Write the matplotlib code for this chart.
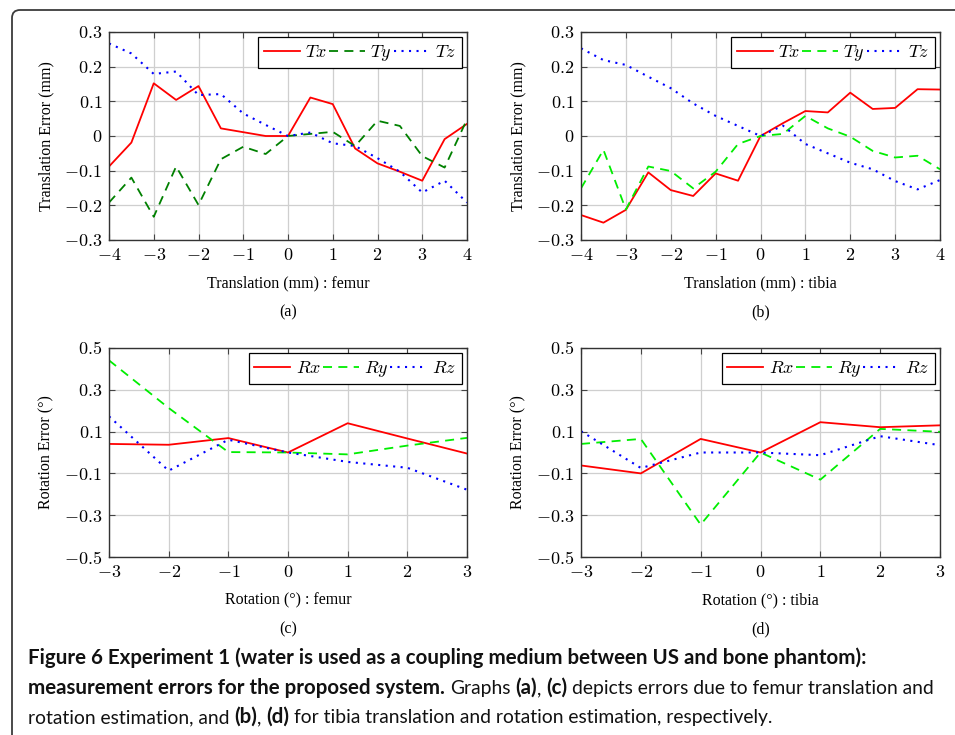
import numpy as np
import matplotlib
matplotlib.use("Agg")
import matplotlib.pyplot as plt
from matplotlib.patches import FancyBboxPatch
from matplotlib.transforms import IdentityTransform
from matplotlib.ticker import FuncFormatter

plt.rcParams['mathtext.fontset'] = 'cm'
plt.rcParams['font.family'] = 'Liberation Serif'

# ---- data ----
t_pos = [-4, -3.5, -3, -2.5, -2, -1.5, -1, -0.5, 0, 0.5, 1, 1.5, 2, 2.5, 3, 3.5, 4]
femur_tx = [-0.088, -0.019, 0.152, 0.104, 0.144, 0.022, 0.011, 0.0, 0.0, 0.111, 0.092,
            -0.036, -0.079, -0.103, -0.129, -0.009, 0.035]
femur_ty = [-0.192, -0.120, -0.233, -0.088, -0.199, -0.067, -0.031, -0.052, 0.0, 0.006, 0.012,
            -0.029, 0.044, 0.029, -0.058, -0.091, 0.048]
femur_tz = [0.267, 0.238, 0.179, 0.186, 0.118, 0.121, 0.065, 0.032, 0.0, 0.010, -0.021,
            -0.029, -0.064, -0.103, -0.163, -0.129, -0.192]

tibia_tx = [-0.228, -0.250, -0.213, -0.105, -0.156, -0.173, -0.108, -0.129, 0.0, 0.037, 0.072,
            0.068, 0.125, 0.078, 0.081, 0.135, 0.134]
tibia_ty = [-0.151, -0.040, -0.212, -0.088, -0.101, -0.151, -0.103, -0.023, 0.0, 0.006, 0.058,
            0.022, -0.002, -0.043, -0.062, -0.057, -0.096]
tibia_tz = [0.253, 0.219, 0.205, 0.171, 0.138, 0.094, 0.058, 0.029, 0.0, 0.030, -0.023,
            -0.050, -0.077, -0.096, -0.130, -0.154, -0.127]

r_pos = [-3, -2, -1, 0, 1, 2, 3]
femur_rx = [0.041, 0.037, 0.069, 0.0, 0.140, 0.067, -0.005]
femur_ry = [0.441, 0.213, 0.002, 0.0, -0.009, 0.033, 0.070]
femur_rz = [0.173, -0.087, 0.061, 0.0, -0.045, -0.073, -0.178]

tibia_rx = [-0.062, -0.100, 0.065, 0.0, 0.145, 0.121, 0.130]
tibia_ry = [0.041, 0.065, -0.345, 0.0, -0.130, 0.113, 0.099]
tibia_rz = [0.102, -0.074, 0.0, 0.0, -0.013, 0.078, 0.035]

t_xticks = [-4, -3, -2, -1, 0, 1, 2, 3, 4]
r_xticks = [-3, -2, -1, 0, 1, 2, 3]
t_ticks = [-0.3, -0.2, -0.1, 0, 0.1, 0.2, 0.3]
r_ticks = [-0.5, -0.3, -0.1, 0.1, 0.3, 0.5]

W, H = 955, 735
fig = plt.figure(figsize=(W / 100, H / 100), dpi=100)
fig.patch.set_facecolor('white')

def box(l, t, r, b):
    return [l / W, 1 - b / H, (r - l) / W, (b - t) / H]

panels = [
    dict(rect=box(109, 32, 467, 240), x=t_pos, ys=(femur_tx, femur_ty, femur_tz),
         names=('Tx', 'Ty', 'Tz'), green='#008000', xlim=(-4, 4), xticks=t_xticks,
         yticks=t_ticks, ylim=(-0.3, 0.3),
         xlabel='Translation (mm) : femur', ylabel='Translation Error (mm)', tag='(a)'),
    dict(rect=box(581, 32, 940, 240), x=t_pos, ys=(tibia_tx, tibia_ty, tibia_tz),
         names=('Tx', 'Ty', 'Tz'), green='#00ee00', xlim=(-4, 4), xticks=t_xticks,
         yticks=t_ticks, ylim=(-0.3, 0.3),
         xlabel='Translation (mm) : tibia', ylabel='Translation Error (mm)', tag='(b)'),
    dict(rect=box(109, 348, 467, 557), x=r_pos, ys=(femur_rx, femur_ry, femur_rz),
         names=('Rx', 'Ry', 'Rz'), green='#00ee00', xlim=(-3, 3), xticks=r_xticks,
         yticks=r_ticks, ylim=(-0.5, 0.5),
         xlabel='Rotation (°) : femur', ylabel='Rotation Error (°)', tag='(c)'),
    dict(rect=box(581, 348, 940, 557), x=r_pos, ys=(tibia_rx, tibia_ry, tibia_rz),
         names=('Rx', 'Ry', 'Rz'), green='#00ee00', xlim=(-3, 3), xticks=r_xticks,
         yticks=r_ticks, ylim=(-0.5, 0.5),
         xlabel='Rotation (°) : tibia', ylabel='Rotation Error (°)', tag='(d)'),
]

fmt = FuncFormatter(lambda v, p: '$%g$' % round(v, 2))

for p in panels:
    ax = fig.add_axes(p['rect'])
    yr, yg, yb = p['ys']
    ax.plot(p['x'], yr, color='red', lw=1.3, label='$%s$' % p['names'][0])
    ax.plot(p['x'], yg, color=p['green'], lw=1.3, dashes=(5, 3.5), label='$%s$' % p['names'][1])
    ax.plot(p['x'], yb, color='blue', lw=1.5, dashes=(1, 2.6), label='$%s$' % p['names'][2])
    ax.set_xlim(p['xlim'])
    ax.set_ylim(p['ylim'])
    ax.set_xticks(p['xticks'])
    ax.set_yticks(p['yticks'])
    ax.xaxis.set_major_formatter(fmt)
    ax.yaxis.set_major_formatter(fmt)
    ax.grid(True, color='#cfcfcf', lw=0.9)
    ax.set_axisbelow(True)
    ax.tick_params(direction='in', top=True, right=True, length=4, width=0.8,
                   color='#444444', labelsize=13, pad=5)
    for s in ax.spines.values():
        s.set_color('#333333')
        s.set_linewidth(1.0)
    ax.set_xlabel(p['xlabel'], fontsize=11.5, labelpad=8)
    ax.set_ylabel(p['ylabel'], fontsize=11.5, labelpad=7)
    leg = ax.legend(loc='upper right', ncol=3, fontsize=13, handlelength=2.0,
                    handletextpad=0.3, columnspacing=0.1, borderaxespad=0.3,
                    fancybox=False, framealpha=1, edgecolor='black', borderpad=0.3)
    leg.get_frame().set_linewidth(0.9)
    bb = ax.get_position()
    fig.text(bb.x0 + bb.width / 2, bb.y0 - 72 / H, p['tag'], ha='center', va='center', fontsize=11.5)

# outer frame
fig.add_artist(FancyBboxPatch((12, -60), 1100, H - 10 + 60, boxstyle='round,pad=0,rounding_size=8',
                              transform=IdentityTransform(), facecolor='none',
                              edgecolor='#3c3c3c', lw=1.3))

# caption with bold and regular parts
cap_font = 'Lato'
sizes = {'bold': 14.8, 'normal': 13.9}
lines = [
    [('Figure 6 Experiment 1 (water is used as a coupling medium between US and bone phantom):', 'bold')],
    [('measurement errors for the proposed system.', 'bold'), (' Graphs ', 'normal'), ('(a)', 'bold'),
     (', ', 'normal'), ('(c)', 'bold'), (' depicts errors due to femur translation and', 'normal')],
    [('rotation estimation, and ', 'normal'), ('(b)', 'bold'), (', ', 'normal'), ('(d)', 'bold'),
     (' for tibia translation and rotation estimation, respectively.', 'normal')],
]
line_y = [664, 694, 723]

r = fig.canvas.get_renderer()
sp = fig.text(0, 0, 'a a', family=cap_font, fontsize=sizes['normal'])
sp2 = fig.text(0, 0, 'aa', family=cap_font, fontsize=sizes['normal'])
space_w = sp.get_window_extent(r).width - sp2.get_window_extent(r).width
sp.remove()
sp2.remove()

for parts, yy in zip(lines, line_y):
    x = 28
    for txt, wt in parts:
        lead = len(txt) - len(txt.lstrip(' '))
        trail = len(txt) - len(txt.rstrip(' '))
        x += lead * space_w
        t = fig.text(x / W, 1 - yy / H, txt.strip(' '), family=cap_font, fontsize=sizes[wt],
                     fontweight=wt, va='baseline', ha='left', color='#111111')
        x += t.get_window_extent(r).width + trail * space_w

fig.savefig('out.png', dpi=100)
